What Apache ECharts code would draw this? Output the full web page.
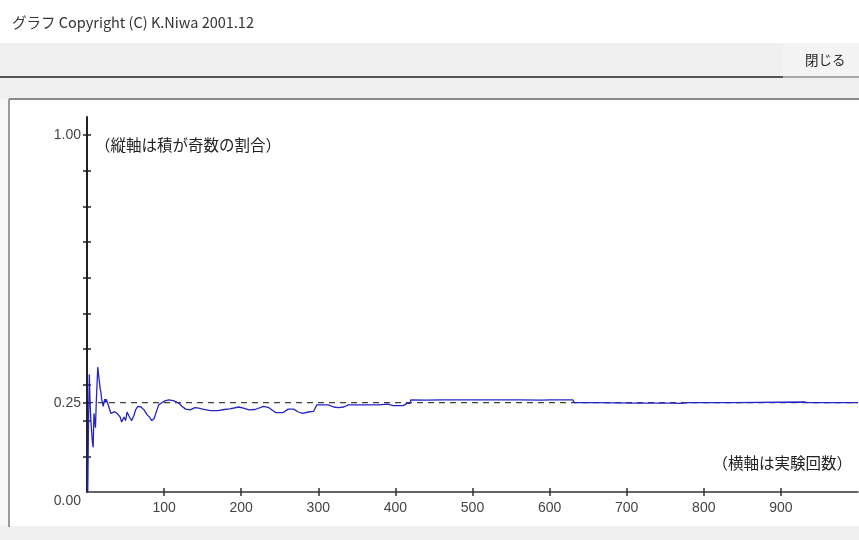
<!DOCTYPE html>
<html>
<head>
<meta charset="utf-8">
<script src="https://cdn.jsdelivr.net/npm/echarts@6/dist/echarts.min.js"></script>
<style>
html,body{margin:0;padding:0;background:#fff;}
#chart{width:859px;height:540px;}
</style>
</head>
<body>
<div id="chart"></div>
<script>
// ---- data ----
const windowTitle = 'グラフ Copyright (C) K.Niwa 2001.12';
const closeLabel = '閉じる';
const yNote = '（縦軸は積が奇数の割合）';
const xNote = '（横軸は実験回数）';

const trialCounts = [1,2,3,4,5,6,7,8,9,10,11,12,13,14,15,16,17,18,19,20,21,22,23,24,25,
  28,31,33,36,39,41,43,45,48,50,52,55,58,61,63,66,70,74,78,81,84,87,90,93,97,
  101,106,112,119,123,128,134,140,145,150,160,170,178,185,197,203,210,218,229,236,245,254,261,268,
  274,280,287,294,298,313,320,326,333,339,378,390,397,410,415,419,420,440,460,
  500,530,560,590,600,630,632,660,712,713,760,770,780,800,840,930,935,1000];
const oddRatios = [0,0.20,0.33,0.25,0.20,0.17,0.14,0.125,0.22,0.20,0.18,0.25,0.30,0.35,0.33,0.31,0.29,0.28,0.26,0.25,0.24,0.235,0.26,0.25,0.26,
  0.24,0.22,0.215,0.225,0.22,0.224,0.21,0.196,0.21,0.20,0.224,0.21,0.20,0.215,0.23,0.24,0.238,0.23,0.216,0.21,0.20,0.205,0.225,0.244,0.25,
  0.255,0.258,0.256,0.249,0.24,0.232,0.23,0.236,0.235,0.232,0.228,0.228,0.231,0.233,0.238,0.235,0.23,0.231,0.24,0.236,0.222,0.222,0.232,0.232,
  0.224,0.22,0.224,0.226,0.244,0.244,0.238,0.236,0.238,0.244,0.244,0.246,0.242,0.242,0.248,0.248,0.258,0.257,0.258,
  0.258,0.258,0.258,0.257,0.258,0.258,0.25,0.25,0.249,0.25,0.249,0.248,0.25,0.25,0.25,0.252,0.25,0.25];
const expectedRatio = 0.25;
const xMax = 1000;
const xTickValues = [100,200,300,400,500,600,700,800,900];
const yTickValues = [0.1,0.2,0.25,0.3,0.4,0.5,0.6,0.7,0.8,0.9,1.0];
const yLabelValues = [0, 0.25, 1.0];

const seriesData = trialCounts.map((n, i) => [n, oddRatios[i]]);

const numFont = '"Liberation Sans",Arial,sans-serif';
const jpFont = '"Noto Sans CJK JP",sans-serif';

const chart = echarts.init(document.getElementById('chart'), null, {renderer:'canvas'});
const option = {
  animation:false,
  backgroundColor:'#ffffff',
  graphic:[
    {type:'rect', silent:true, z:-10, shape:{x:0,y:43,width:859,height:34}, style:{fill:'#f0f0f0'}},
    {type:'rect', silent:true, z:-10, shape:{x:783,y:43,width:76,height:34}, style:{fill:'#f4f4f4'}},
    {type:'line', silent:true, z:-9, shape:{x1:0,y1:77,x2:783,y2:77}, style:{stroke:'#555',lineWidth:2}},
    {type:'line', silent:true, z:-9, shape:{x1:783,y1:77,x2:859,y2:77}, style:{stroke:'#aaa',lineWidth:2}},
    {type:'rect', silent:true, z:-10, shape:{x:0,y:78,width:859,height:21}, style:{fill:'#f0f0f0'}},
    {type:'rect', silent:true, z:-10, shape:{x:0,y:99,width:9,height:441}, style:{fill:'#f6f6f6'}},
    {type:'rect', silent:true, z:-10, shape:{x:0,y:526,width:859,height:14}, style:{fill:'#f0f0f0'}},
    {type:'line', silent:true, z:-9, shape:{x1:9,y1:99,x2:859,y2:99}, style:{stroke:'#8a8a8a',lineWidth:2}},
    {type:'line', silent:true, z:-9, shape:{x1:9,y1:99,x2:9,y2:527}, style:{stroke:'#9a9a9a',lineWidth:2}},
    {type:'text', silent:true, x:12, y:22, style:{text:windowTitle, fill:'#333', font:'14.5px '+jpFont, verticalAlign:'middle'}},
    {type:'text', silent:true, x:805, y:60, style:{text:closeLabel, fill:'#222', font:'13.5px '+jpFont, verticalAlign:'middle'}},
    {type:'text', silent:true, x:95, y:145, style:{text:yNote, fill:'#222', font:'15.5px '+jpFont, verticalAlign:'middle'}},
    {type:'text', silent:true, x:852, y:463, style:{text:xNote, fill:'#222', font:'15.5px '+jpFont, verticalAlign:'middle', align:'right'}}
  ],
  grid:{left:87, right:1, top:117, bottom:48, containLabel:false},
  xAxis:[
    {type:'value', min:0, max:xMax, position:'bottom',
     axisLine:{show:true, lineStyle:{color:'#333', width:1.5}},
     axisTick:{show:true, inside:false, length:4, customValues:xTickValues, lineStyle:{color:'#333', width:1.5}},
     axisLabel:{show:true, customValues:xTickValues, margin:9, color:'#444', fontSize:14, fontFamily:numFont},
     splitLine:{show:false}},
    {type:'value', min:0, max:xMax, position:'bottom',
     axisLine:{show:false},
     axisTick:{show:true, inside:true, length:4, customValues:xTickValues, lineStyle:{color:'#333', width:1.5}},
     axisLabel:{show:false}, splitLine:{show:false}}
  ],
  yAxis:[
    {type:'value', min:0, max:1.05, position:'left',
     axisLine:{show:true, onZero:false, lineStyle:{color:'#222', width:2}},
     axisTick:{show:true, inside:false, length:4, customValues:yTickValues, lineStyle:{color:'#222', width:1.5}},
     axisLabel:{show:true, customValues:yLabelValues, margin:6, color:'#444', fontSize:14, fontFamily:numFont,
       formatter:function(v){ return v === 0 ? '{low|0.00}' : v.toFixed(2); },
       rich:{low:{padding:[18,0,0,0], fontSize:14, fontFamily:numFont, color:'#444'}}},
     splitLine:{show:false}},
    {type:'value', min:0, max:1.05, position:'left',
     axisLine:{show:false},
     axisTick:{show:true, inside:true, length:4, customValues:yTickValues, lineStyle:{color:'#222', width:1.5}},
     axisLabel:{show:false}, splitLine:{show:false}}
  ],
  series:[
    {type:'line', name:'expected', xAxisIndex:0, yAxisIndex:0, symbol:'none', silent:true, z:2,
     data:[[0, expectedRatio],[xMax, expectedRatio]],
     lineStyle:{color:'#111', width:1, type:[6,5]}},
    {type:'line', name:'ratio', xAxisIndex:0, yAxisIndex:0, symbol:'none', silent:true, z:3,
     data:seriesData,
     lineStyle:{color:'#2424c8', width:1.3}}
  ]
};
chart.setOption(option);
</script>
</body>
</html>
